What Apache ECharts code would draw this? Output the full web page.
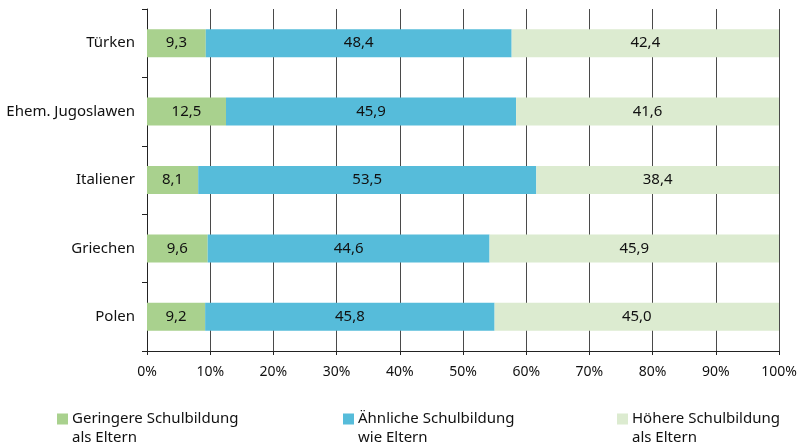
<!DOCTYPE html>
<html>
<head>
<meta charset="UTF-8">
<title></title>
<style>
  html, body { margin: 0; padding: 0; background: #fff; }
  #chart { width: 801px; height: 443px; }
</style>
</head>
<body>
<div id="chart"></div>
<script src="https://cdn.jsdelivr.net/npm/echarts@6/dist/echarts.min.js"></script>
<script>
var categories = ['Türken', 'Ehem. Jugoslawen', 'Italiener', 'Griechen', 'Polen'];
var seriesNames = ['Geringere Schulbildung\nals Eltern', 'Ähnliche Schulbildung\nwie Eltern', 'Höhere Schulbildung\nals Eltern'];
var geringer = [9.3, 12.5, 8.1, 9.6, 9.2];
var aehnlich = [48.4, 45.9, 53.5, 44.6, 45.8];
var hoeher = [42.4, 41.6, 38.4, 45.9, 45.0];
var colors = ['#a9d18e', '#56bcda', '#dcebd0'];

var font = 'Noto Sans';
// square at top of a taller box so the marker lines up with the first text line
var legendIcon = 'path://M0,0h11v11h-11zM0,29h0.01z';

function makeSeries(i, values) {
  return {
    name: seriesNames[i],
    type: 'bar',
    stack: 'all',
    barWidth: 28,
    itemStyle: { color: colors[i] },
    label: {
      show: true,
      position: 'inside',
      color: '#111',
      fontFamily: font,
      fontSize: 15,
      formatter: function (p) { return p.value.toFixed(1).replace('.', ','); }
    },
    emphasis: { disabled: true },
    data: values
  };
}

function makeLegend(i, left) {
  return {
    left: left,
    top: 409,
    padding: 0,
    itemWidth: 11,
    itemHeight: 29,
    itemGap: 0,
    icon: legendIcon,
    selectedMode: false,
    textStyle: { fontFamily: font, fontSize: 15, color: '#111', lineHeight: 19, padding: [0, 0, 0, -1] },
    data: [seriesNames[i]]
  };
}

var chart = echarts.init(document.getElementById('chart'));
chart.setOption({
  animation: false,
  legend: [makeLegend(0, 57), makeLegend(1, 343), makeLegend(2, 617)],
  grid: { left: 147, right: 22, top: 9, bottom: 92, containLabel: false },
  xAxis: {
    type: 'value',
    min: 0,
    max: 100,
    interval: 10,
    axisLine: { show: true, lineStyle: { color: '#222', width: 1 } },
    axisTick: { show: true, length: 4, lineStyle: { color: '#222' } },
    axisLabel: { margin: 14, color: '#111', fontFamily: font, fontSize: 14, formatter: '{value}%' },
    splitLine: { show: true, lineStyle: { color: '#4a4a4a', width: 1 } }
  },
  yAxis: {
    type: 'category',
    inverse: true,
    data: categories,
    axisLine: { show: true, lineStyle: { color: '#222', width: 1 } },
    axisTick: { show: true, length: 5, lineStyle: { color: '#222' } },
    axisLabel: { margin: 12, color: '#111', fontFamily: font, fontSize: 15 }
  },
  series: [makeSeries(0, geringer), makeSeries(1, aehnlich), makeSeries(2, hoeher)]
});
</script>
</body>
</html>
